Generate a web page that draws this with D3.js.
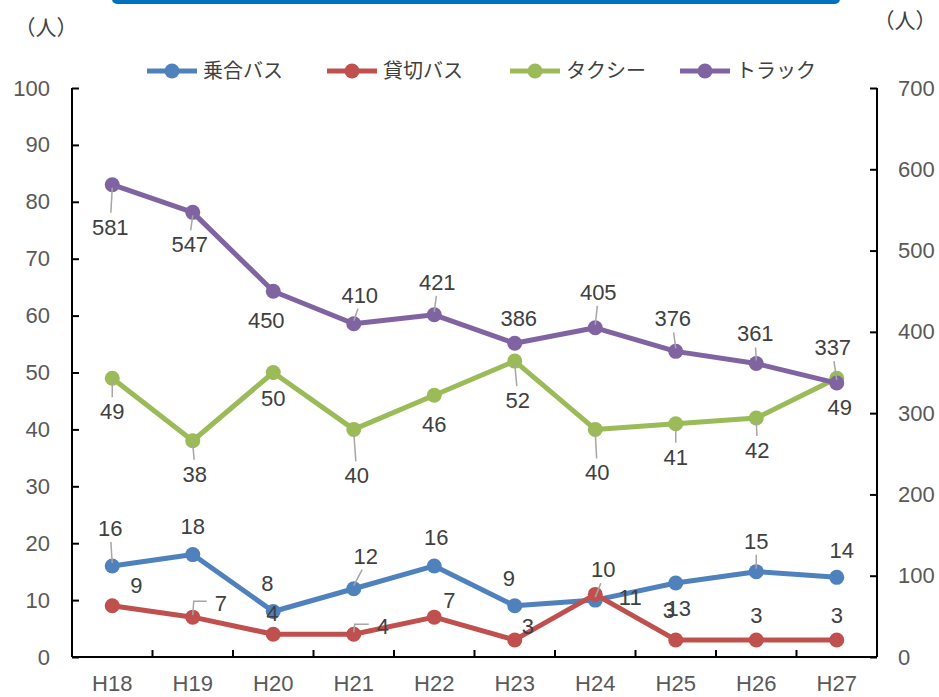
<!DOCTYPE html>
<html>
<head>
<meta charset="utf-8">
<script src="https://cdnjs.cloudflare.com/ajax/libs/d3/7.8.5/d3.min.js"></script>
<style>
  body { margin: 0; background: #fff; }
  svg { display: block; }
  text { font-family: "Liberation Sans", Arial, sans-serif; }
  .jp { font-family: "Noto Sans CJK JP", sans-serif; }
</style>
</head>
<body>
<div id="chart"></div>
<script>
    // 年度
    var categories = ['H18', 'H19', 'H20', 'H21', 'H22', 'H23', 'H24', 'H25', 'H26', 'H27'];

    // series values (人)
    var noriaiBus = [16, 18, 8, 12, 16, 9, 10, 13, 15, 14];
    var kashikiriBus = [9, 7, 4, 4, 7, 3, 11, 3, 3, 3];
    var taxi = [49, 38, 50, 40, 46, 52, 40, 41, 42, 49];
    var truck = [581, 547, 450, 410, 421, 386, 405, 376, 361, 337];   // right axis

    var leftTicks = [0, 10, 20, 30, 40, 50, 60, 70, 80, 90, 100];
    var rightTicks = [0, 100, 200, 300, 400, 500, 600, 700];

    // label offsets from each point [dx, dy, leader]  (leader: 0 none, 1 straight, 2 elbow)
    var labelOffsets = {
        noriai: [[-2, -38, 1], [0, -29, 0], [-6, -28, 0], [12, -33, 1], [2, -29, 0],
                 [-6, -28, 0], [8, -31, 1], [3, 25, 0], [0, -31, 1], [5, -27, 0]],
        kashikiri: [[24, -21, 0], [28, -14, 2], [-1, -21, 0], [29, -8, 2], [15, -17, 0],
                    [13, -14, 0], [35, 3, 0], [-7, -30, 0], [0, -25, 0], [0, -25, 0]],
        taxi: [[0, 33, 1], [2, 33, 1], [0, 26, 0], [3, 46, 1], [0, 29, 0],
               [3, 39, 1], [2, 43, 1], [0, 33, 1], [1, 32, 1], [3, 29, 0]],
        truck: [[-2, 42, 1], [-3, 32, 1], [-7, 29, 0], [6, -29, 1], [3, -33, 1],
                [4, -25, 0], [3, -36, 1], [-3, -33, 1], [-1, -30, 1], [-4, -36, 1]]
    };

    var series = [
        { name: '乗合バス', values: noriaiBus, axis: 'left', color: '#4F81BD', labels: labelOffsets.noriai },
        { name: '貸切バス', values: kashikiriBus, axis: 'left', color: '#C0504D', labels: labelOffsets.kashikiri },
        { name: 'タクシー', values: taxi, axis: 'left', color: '#9BBB59', labels: labelOffsets.taxi },
        { name: 'トラック', values: truck, axis: 'right', color: '#8064A2', labels: labelOffsets.truck }
    ];

    var W = 939, H = 697;
    var plotLeft = 72, plotRight = 877, plotTop = 88, plotBottom = 657;

    var svg = d3.select('#chart').append('svg')
        .attr('width', W)
        .attr('height', H);

    // top decorative bar (cut off)
    svg.append('rect')
        .attr('x', 112).attr('y', -8)
        .attr('width', 728).attr('height', 12)
        .attr('rx', 5)
        .attr('fill', '#0070C0');

    var x = d3.scaleBand().domain(categories).range([plotLeft, plotRight]);
    var yL = d3.scaleLinear().domain([0, 100]).range([plotBottom, plotTop]);
    var yR = d3.scaleLinear().domain([0, 700]).range([plotBottom, plotTop]);

    // axes
    var gL = svg.append('g')
        .attr('transform', 'translate(' + plotLeft + ',0)')
        .call(d3.axisLeft(yL).tickValues(leftTicks).tickSize(-7).tickPadding(22));
    var gR = svg.append('g')
        .attr('transform', 'translate(' + plotRight + ',0)')
        .call(d3.axisRight(yR).tickValues(rightTicks).tickSize(-7).tickPadding(21));
    var gX = svg.append('g')
        .attr('transform', 'translate(0,' + plotBottom + ')')
        .call(d3.axisBottom(x).tickSize(0).tickPadding(18));

    // category boundary ticks (inward)
    gX.selectAll('.bound')
        .data(d3.range(1, categories.length))
        .enter()
        .append('line')
        .attr('x1', function (i) { return plotLeft + i * x.step(); })
        .attr('x2', function (i) { return plotLeft + i * x.step(); })
        .attr('y1', 0).attr('y2', -7);

    [gL, gR, gX].forEach(function (g) {
        g.selectAll('path.domain').attr('stroke', '#000').attr('stroke-width', 2);
        g.selectAll('line').attr('stroke', '#000').attr('stroke-width', 2);
        g.selectAll('text')
            .attr('fill', '#595959')
            .attr('font-size', '22px')
            .attr('font-family', '"Liberation Sans", Arial, sans-serif');
    });
    gX.select('path.domain').attr('d', 'M' + plotLeft + ',0H' + plotRight);
    gL.select('path.domain').attr('d', 'M0,' + plotBottom + 'V' + plotTop);
    gR.select('path.domain').attr('d', 'M0,' + plotBottom + 'V' + plotTop);

    // unit labels
    svg.append('text').attr('class', 'jp')
        .attr('x', 46).attr('y', 35)
        .attr('text-anchor', 'middle')
        .attr('font-size', '21px').attr('fill', '#404040')
        .text('（人）');
    svg.append('text').attr('class', 'jp')
        .attr('x', 905).attr('y', 28)
        .attr('text-anchor', 'middle')
        .attr('font-size', '21px').attr('fill', '#404040')
        .text('（人）');

    function cx(i) { return x(categories[i]) + x.bandwidth() / 2; }

    // lines + markers
    series.forEach(function (s) {
        var yScale = s.axis === 'left' ? yL : yR;
        var line = d3.line()
            .x(function (d, i) { return cx(i); })
            .y(function (d) { return yScale(d); });

        svg.append('path')
            .datum(s.values)
            .attr('d', line)
            .attr('fill', 'none')
            .attr('stroke', s.color)
            .attr('stroke-width', 5)
            .attr('stroke-linejoin', 'round');

        svg.selectAll(null)
            .data(s.values)
            .enter()
            .append('circle')
            .attr('cx', function (d, i) { return cx(i); })
            .attr('cy', function (d) { return yScale(d); })
            .attr('r', 7.5)
            .attr('fill', s.color);
    });

    // data labels + leader lines
    series.forEach(function (s) {
        var yScale = s.axis === 'left' ? yL : yR;
        s.values.forEach(function (v, i) {
            var px = cx(i), py = yScale(v);
            var o = s.labels[i];
            var lx = px + o[0], ly = py + o[1];

            if (o[2] === 1) {
                var sy = ly + (o[1] > 0 ? -14 : 14);
                svg.append('line')
                    .attr('x1', lx - o[0] * 0.3).attr('y1', sy)
                    .attr('x2', px).attr('y2', py + (o[1] > 0 ? 3 : -3))
                    .attr('stroke', '#A6A6A6').attr('stroke-width', 1.5);
            } else if (o[2] === 2) {
                svg.append('path')
                    .attr('d', 'M' + px + ',' + (py - 2) + 'L' + (px + 1) + ',' + (ly - 2) + 'H' + (lx - 14))
                    .attr('fill', 'none')
                    .attr('stroke', '#A6A6A6').attr('stroke-width', 1.5);
            }

            svg.append('text')
                .attr('x', lx).attr('y', ly)
                .attr('dy', '0.36em')
                .attr('text-anchor', 'middle')
                .attr('font-size', '22px')
                .attr('fill', '#404040')
                .text(v);
        });
    });

    // legend
    var legendX = [147, 327, 510, 680];
    var legend = svg.append('g').attr('transform', 'translate(0,71)');
    series.forEach(function (s, i) {
        var g = legend.append('g').attr('transform', 'translate(' + legendX[i] + ',0)');
        g.append('line')
            .attr('x1', 0).attr('x2', 50)
            .attr('stroke', s.color).attr('stroke-width', 5);
        g.append('circle').attr('cx', 25).attr('r', 7.5).attr('fill', s.color);
        g.append('text').attr('class', 'jp')
            .attr('x', 56).attr('dy', '0.36em')
            .attr('font-size', '20px')
            .attr('fill', '#404040')
            .text(s.name);
    });
</script>
</body>
</html>
